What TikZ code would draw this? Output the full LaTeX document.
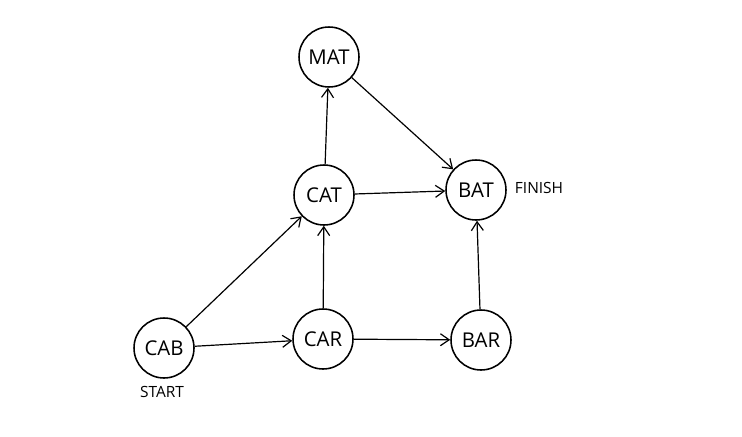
\documentclass[tikz,border=0pt]{standalone}
\usepackage{fontspec}
\setmainfont{Open Sans}
\usepackage{tikz}
\usetikzlibrary{arrows.meta}

\begin{document}
\begin{tikzpicture}[
    word/.style={draw,circle,line width=1.1pt,minimum size=1.5cm,inner sep=0pt,font=\fontsize{14.5}{17}\selectfont},
    tag/.style={font=\fontsize{11}{13}\selectfont},
    edge/.style={line width=0.85pt,-{Straight Barb[length=2.2mm,width=3mm]}}
  ]
  \useasboundingbox (0,0) rectangle (18.55,10.9);
  \node[word] (mat) at (8.225,9.475) {MAT};
  \node[word] (cat) at (8.1,6.025)   {CAT};
  \node[word] (bat) at (11.9,6.15)   {BAT};
  \node[word] (cab) at (4.1,2.2)     {CAB};
  \node[word] (car) at (8.075,2.425) {CAR};
  \node[word] (bar) at (12.025,2.4)  {BAR};
  \node[tag,anchor=west] (finish) at (12.75,6.2) {FINISH};
  \node[tag] (start) at (4.05,1.1) {START};
  \draw[edge] (cab) -- (cat);
  \draw[edge] (cab) -- (car);
  \draw[edge] (car) -- (cat);
  \draw[edge] (car) -- (bar);
  \draw[edge] (cat) -- (mat);
  \draw[edge] (cat) -- (bat);
  \draw[edge] (mat) -- (bat);
  \draw[edge] (bar) -- (bat);
\end{tikzpicture}
\end{document}
